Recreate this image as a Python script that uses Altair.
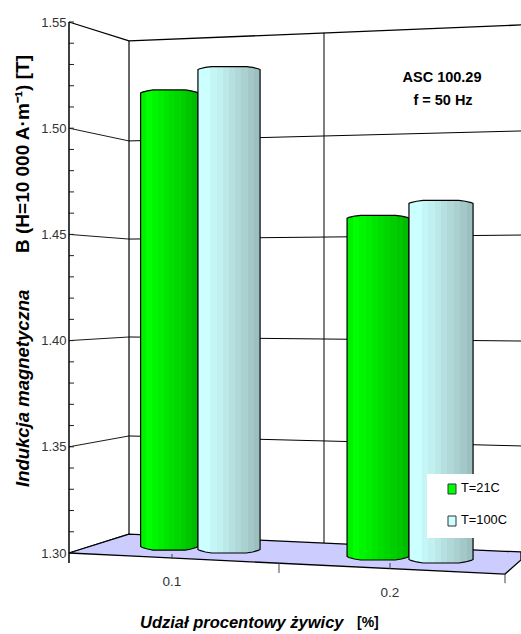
import altair as alt
import pandas as pd

# Bar heights and base levels, in tesla on the front axis scale
shares = [0.1, 0.2]
temps = ["T=21C", "T=100C"]
b_21c = [1.518, 1.459]
b_100c = [1.529, 1.466]
base_21c = [1.3014, 1.2967]
base_100c = [1.3000, 1.2953]
left_21c = [0.0856, 0.1803]
mid_bars = [0.1119, 0.2087]
right_100c = [0.1404, 0.2381]

# Cylinder outline: position across the bar and drop from its top or bottom level
cap_pos = [0.0, 0.03, 0.12, 0.22, 0.78, 0.88, 0.97, 1.0]
cap_drop = [0.0014, 0.0010, 0.0004, 0.0, 0.0, 0.0004, 0.0010, 0.0014]

# Perspective frame
y_ticks = [1.30, 1.31, 1.32, 1.33, 1.34, 1.35, 1.36, 1.37, 1.38, 1.39, 1.40, 1.41, 1.42,
           1.43, 1.44, 1.45, 1.46, 1.47, 1.48, 1.49, 1.50, 1.51, 1.52, 1.53, 1.54, 1.55]
y_labels = [1.30, 1.35, 1.40, 1.45, 1.50, 1.55]
wall_back_left = [1.3089, 1.3551, 1.4017, 1.4478, 1.4940, 1.5411]
wall_back_right = [1.3005, 1.3504, 1.3998, 1.4497, 1.4987, 1.5486]
x_front = 0.05275
x_back = 0.08028
x_divider_front = 0.14908
x_divider_back = 0.16972
x_corner = 0.25275
x_end = 0.26009

floor_x = [x_front, x_back, x_corner, x_end]
floor_back = [1.3000, 1.3089, 1.3008, 1.3005]
floor_front = [1.3000, 1.2986, 1.2901, 1.2967]

FONT = "Liberation Sans"

sx = alt.Scale(domain=[0.1, 0.2], range=[103, 321], nice=False, zero=False)
sy = alt.Scale(domain=[1.30, 1.55], range=[553, 22], nice=False, zero=False)
X = alt.X("x:Q", scale=sx, axis=None)
Y = alt.Y(
    "y:Q",
    scale=sy,
    title=None,
    axis=alt.Axis(
        values=y_labels,
        labelExpr="format(datum.value, '.2f')",
        ticks=False,
        domain=False,
        grid=False,
        labelFont=FONT,
        labelFontSize=13,
        labelColor="#333333",
        labelPadding=3,
        labelOverlap=False,
        labelBound=False,
        labelFlush=False,
    ),
)


def stepped(colours):
    """Horizontal gradient with hard bands, giving the faceted cylinder look."""
    n = len(colours)
    stops = []
    for i, c in enumerate(colours):
        stops.append(alt.GradientStop(offset=i / n, color=c))
        stops.append(alt.GradientStop(offset=(i + 1) / n, color=c))
    return alt.LinearGradient(gradient="linear", x1=0, x2=1, y1=0, y2=0, stops=stops)


green_bands = ["#00f000", "#00ff00", "#00f600", "#00ee00", "#00e600", "#00de00",
               "#00d600", "#00ce00", "#00c600", "#00bc00"]
light_bands = ["#ccffff", "#ccffff", "#c4f6f6", "#c0f0f0", "#bbe8e8", "#b6e0e0",
               "#b0d8d8", "#aad0d0", "#a4c8c8", "#9cc0c0"]


def cylinders(lefts, rights, tops, bases):
    rows = []
    for k, (l, r, t, b) in enumerate(zip(lefts, rights, tops, bases)):
        for p, d in zip(cap_pos, cap_drop):
            rows.append({"bar": k, "x": l + (r - l) * p, "y": t - d, "y0": b + d * 1.2})
    return pd.DataFrame(rows)


def segments(items):
    rows = []
    for k, (x0, y0, x1, y1) in enumerate(items):
        rows.append({"seg": k, "step": 0, "x": x0, "y": y0})
        rows.append({"seg": k, "step": 1, "x": x1, "y": y1})
    return pd.DataFrame(rows)


def polyline(items, width, colour="#000000"):
    return alt.Chart(segments(items)).mark_line(
        color=colour, strokeWidth=width, interpolate="linear"
    ).encode(x=X, y=Y, detail="seg:N", order=alt.Order("step:Q"))


# Short inward ticks on the value axis
ticks = alt.Chart(pd.DataFrame({"y": y_ticks})).mark_rule(color="#222222", strokeWidth=1).encode(
    x=alt.value(0), x2=alt.value(5), y=Y
)

floor = alt.Chart(pd.DataFrame({"x": floor_x, "y": floor_back, "y0": floor_front})).mark_area(
    fill="#ccccff", stroke="#000000", strokeWidth=1.3, orient="vertical"
).encode(x=X, y=Y, y2="y0:Q")

grid_lines = polyline(
    [(x_back, b, x_end, r) for b, r in list(zip(wall_back_left, wall_back_right))[1:-1]], 1
)
top_line = polyline([(x_back, wall_back_left[-1], x_end, wall_back_right[-1])], 1.3)
side_lines = polyline(
    [(x_front, v, x_back, b) for v, b in zip(y_labels[1:-1], wall_back_left[1:-1])], 0.9
)
side_edges = polyline(
    [(x_front, y_labels[-1], x_back, wall_back_left[-1]),
     (x_front, y_labels[0], x_back, wall_back_left[0]),
     (x_back, wall_back_left[0], x_back, wall_back_left[-1])],
    1.2,
)
divider = polyline(
    [(x_divider_back, 1.3047, x_divider_back, 1.5449),
     (x_divider_front, 1.2953, x_divider_back, 1.3047)],
    1,
)
axis_line = polyline([(x_front, 1.2953, x_front, 1.55)], 1.5)
front_ticks = polyline(
    [(x_divider_front, 1.2953, x_divider_front, 1.2906),
     (x_corner, 1.2901, x_corner, 1.2858),
     (shares[0], 1.2995, shares[0], 1.2972),
     (shares[1], 1.2953, shares[1], 1.2925)],
    1,
    "#444444",
)

bars_21c = alt.Chart(cylinders(left_21c, mid_bars, b_21c, base_21c)).mark_area(
    fill=stepped(green_bands), stroke="#000000", strokeWidth=1.2, orient="vertical"
).encode(x=X, y=Y, y2="y0:Q", detail="bar:N")
bars_100c = alt.Chart(cylinders(mid_bars, right_100c, b_100c, base_100c)).mark_area(
    fill=stepped(light_bands), stroke="#000000", strokeWidth=1.2, orient="vertical"
).encode(x=X, y=Y, y2="y0:Q", detail="bar:N")

x_labels = alt.layer(*[
    alt.Chart(pd.DataFrame({"x": [s], "t": [f"{s:.1f}"]})).mark_text(
        font=FONT, fontSize=13.5, color="#333333", align="center", baseline="middle"
    ).encode(x=X, y=alt.value(py), text="t:N")
    for s, py in zip(shares, [582, 593])
])


def label(text, px, py, size=13, bold=False, italic=False, angle=0, align="center", colour="#000000"):
    return alt.Chart(pd.DataFrame({"t": [text]})).mark_text(
        font=FONT,
        fontSize=size,
        fontWeight="bold" if bold else "normal",
        fontStyle="italic" if italic else "normal",
        angle=angle,
        align=align,
        baseline="alphabetic" if angle else "middle",
        color=colour,
    ).encode(x=alt.value(px - 69), y=alt.value(py), text="t:N")


def box(px0, py0, px1, py1, fill, stroke=None):
    kw = {"stroke": stroke, "strokeWidth": 1} if stroke else {"strokeWidth": 0}
    return alt.Chart(pd.DataFrame({"a": [0]})).mark_rect(fill=fill, **kw).encode(
        x=alt.value(px0 - 69), x2=alt.value(px1 - 69), y=alt.value(py0), y2=alt.value(py1)
    )


texts = [
    label("Udział procentowy żywicy", 140, 623, size=16.5, bold=True, italic=True, align="left"),
    label("[%]", 357, 623, size=14, bold=True, align="left"),
    label("Indukcja magnetyczna", 29, 487, size=18.5, bold=True, italic=True, angle=270, align="left"),
    label("B (H=10 000 A·m⁻¹) [T]", 29, 253, size=19, bold=True, angle=270, align="left"),
    label("ASC 100.29", 442, 78, size=14.5, bold=True),
    label("f = 50 Hz", 443, 101, size=14.5, bold=True),
]

legend = [
    box(427, 474, 521, 538, "#ffffff"),
    box(448, 484, 456, 494, "#00ff00", "#333333"),
    box(448, 516, 456, 526, "#ccffff", "#333333"),
    label(temps[0], 461, 488, size=12.8, align="left"),
    label(temps[1], 461, 520, size=12.8, align="left"),
]

chart = alt.layer(
    grid_lines, top_line, side_lines, side_edges, divider, floor, ticks, axis_line,
    front_ticks, bars_21c, bars_100c, x_labels, *texts, *legend,
).resolve_scale(x="shared", y="shared").properties(
    width=452,
    height=634,
    autosize=alt.AutoSizeParams(type="none"),
    padding={"left": 69, "top": 0, "right": 0, "bottom": 0},
    background="#ffffff",
).configure_view(stroke=None)

chart.save("out.html", embed_options={"renderer": "svg", "actions": False})
